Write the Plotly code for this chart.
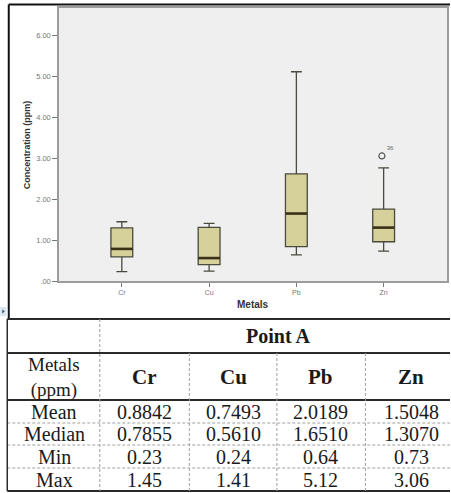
import plotly.graph_objects as go

# ---- data -------------------------------------------------------------
metals = ["Cr", "Cu", "Pb", "Zn"]
q1_vals = [0.59, 0.40, 0.84, 0.96]
q3_vals = [1.30, 1.31, 2.62, 1.76]
median_vals = [0.7855, 0.5610, 1.6510, 1.3070]
mean_vals = [0.8842, 0.7493, 2.0189, 1.5048]
min_vals = [0.23, 0.24, 0.64, 0.73]
max_vals = [1.45, 1.41, 5.12, 3.06]
upper_whisker = [1.45, 1.41, 5.12, 2.77]
outlier_metal = "Zn"
outlier_value = 3.06
outlier_case = "36"

y_tickvals = [0, 1, 2, 3, 4, 5, 6]
y_ticktext = [".00", "1.00", "2.00", "3.00", "4.00", "5.00", "6.00"]

table_title = "Point A"
header_label = "Metals<br>(ppm)"
row_labels = ["Mean", "Median", "Min", "Max"]

# ---- layout geometry (pixels) -------------------------------------------
W, H = 451, 493
L, R, T, B = 59, 2, 8, 212
PW, PH = W - L - R, H - T - B
BOX_W = 0.25


def px(x):
    return (x - L) / PW


def py(y):
    return (T + PH - y) / PH


fig = go.Figure()

box_fill = "#d6d19b"
box_line = "#4a4a3e"
for i, m in enumerate(metals):
    fig.add_trace(go.Box(
        x=[i], q1=[q1_vals[i]], median=[median_vals[i]], q3=[q3_vals[i]],
        lowerfence=[min_vals[i]], upperfence=[upper_whisker[i]],
        width=BOX_W, whiskerwidth=0.5, fillcolor=box_fill,
        line=dict(color=box_line, width=1.3), boxpoints=False,
        name=m, showlegend=False, hoverinfo="skip",
    ))

# heavier median bars drawn over each box
mx, my = [], []
for i, med in enumerate(median_vals):
    mx += [i - BOX_W / 2, i + BOX_W / 2, None]
    my += [med, med, None]
fig.add_trace(go.Scatter(x=mx, y=my, mode="lines",
                         line=dict(color="#3a3218", width=2.6),
                         showlegend=False, hoverinfo="skip"))

# outlier with its case number
oi = metals.index(outlier_metal)
fig.add_trace(go.Scatter(
    x=[oi - 0.02], y=[outlier_value], mode="markers+text",
    marker=dict(symbol="circle-open", size=6, color="#555555",
                line=dict(width=1.2)),
    text=[outlier_case], textposition="top right",
    textfont=dict(family="Liberation Sans", size=6, color="#666666"),
    showlegend=False, hoverinfo="skip"))

axis_grey = "#9c9c9c"
fig.update_xaxes(
    range=[-0.72, 3.726], tickvals=list(range(len(metals))), ticktext=metals,
    ticks="outside", ticklen=4, tickcolor="#777777", showgrid=False,
    showline=True, mirror=True, linecolor=axis_grey, linewidth=1.5,
    tickfont=dict(family="Liberation Sans", size=7, color="#777777"),
    zeroline=False,
)
fig.update_yaxes(
    range=[0, 6.68], tickvals=y_tickvals, ticktext=y_ticktext,
    ticks="outside", ticklen=5, tickcolor="#777777", showgrid=False,
    showline=True, mirror=True, linecolor=axis_grey, linewidth=1.5,
    tickfont=dict(family="Liberation Sans", size=7.5, color="#777777"),
    zeroline=False,
)

shapes = []
annotations = []

# frame around the chart image
frame = dict(type="line", xref="paper", yref="paper",
             line=dict(color="#111111", width=2))
shapes.append({**frame, "x0": px(8.5), "x1": px(8.5), "y0": py(4.5), "y1": py(318)})
shapes.append({**frame, "x0": px(8.5), "x1": px(452), "y0": py(4.5), "y1": py(4.5)})

# axis titles
annotations.append(dict(
    text="Concentration (ppm)", x=px(27), y=py(145), xref="paper", yref="paper",
    textangle=-90, showarrow=False, xanchor="center", yanchor="middle",
    font=dict(family="Liberation Sans", size=9, color="#333333", weight="bold")))
annotations.append(dict(
    text="Metals", x=px(254), y=py(304), xref="paper", yref="paper",
    showarrow=False, xanchor="center", yanchor="middle",
    font=dict(family="Liberation Sans", size=10, color="#333333", weight="bold")))

# small handle marker at the left edge
shapes.append(dict(type="rect", xref="paper", yref="paper",
                   x0=px(0), x1=px(6), y0=py(316), y1=py(307),
                   fillcolor="#d6e4f2", line=dict(width=0)))
shapes.append(dict(type="path", xref="paper", yref="paper",
                   path=f"M {px(2)} {py(309.5)} L {px(4.5)} {py(311.5)} L {px(2)} {py(313.5)} Z",
                   fillcolor="#34506e", line=dict(width=0)))

# ---- statistics table --------------------------------------------------
tab_left, tab_right = 7, 452
row_lines = [319, 353, 400, 423, 445, 468, 491]
col_lines = [100, 190, 278, 367]
solid = dict(color="#2a2a2a", width=2)
dashed = dict(color="#a0a0a0", width=1, dash="3px,2px")


def hline(y, line):
    shapes.append(dict(type="line", xref="paper", yref="paper",
                       x0=px(tab_left), x1=px(tab_right), y0=py(y), y1=py(y), line=line))


def vline(x, y0, y1, line):
    shapes.append(dict(type="line", xref="paper", yref="paper",
                       x0=px(x), x1=px(x), y0=py(y0), y1=py(y1), line=line))


for k, y in enumerate(row_lines):
    hline(y, solid if k in (0, 1, 2, 6) else dashed)
vline(tab_left, row_lines[0], row_lines[-1], dict(color="#2a2a2a", width=1.5))
vline(col_lines[0], row_lines[0], row_lines[-1], dashed)
for x in col_lines[1:]:
    vline(x, row_lines[1], row_lines[-1], dashed)

serif = "Liberation Serif"
txt = "#1a1a1a"


def cell(text, x, y, size=20, bold=False):
    annotations.append(dict(
        text=text, x=px(x), y=py(y), xref="paper", yref="paper",
        showarrow=False, xanchor="center", yanchor="middle",
        font=dict(family=serif, size=size, color=txt,
                  weight="bold" if bold else "normal")))


first_col_x = 54
col_centers = [145, 234, 322, 413]
row_centers = [(row_lines[k] + row_lines[k + 1]) / 2 for k in range(2, 6)]

cell(table_title, 279, 336, size=20, bold=True)
cell(header_label, first_col_x, 377, size=19)
for j, m in enumerate(metals):
    cell(m, col_centers[j], 377, size=21, bold=True)

row_values = [
    [f"{v:.4f}" for v in mean_vals],
    [f"{v:.4f}" for v in median_vals],
    [f"{v:.2f}" for v in min_vals],
    [f"{v:.2f}" for v in max_vals],
]
for r, label in enumerate(row_labels):
    cell(label, first_col_x, row_centers[r])
    for j in range(len(metals)):
        cell(row_values[r][j], col_centers[j], row_centers[r])

fig.update_layout(
    width=W, height=H, autosize=False,
    margin=dict(l=L, r=R, t=T, b=B, pad=0),
    paper_bgcolor="white", plot_bgcolor="#efefef",
    shapes=shapes, annotations=annotations, showlegend=False,
)

fig.write_html("out.html")
